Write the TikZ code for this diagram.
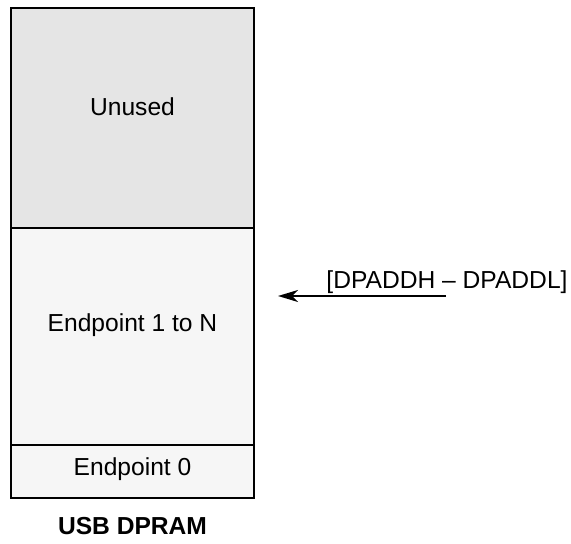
\documentclass[tikz,border=0pt]{standalone}
\usepackage{fontspec}
\setmainfont{Liberation Sans}
\usepackage{tikz}
\usepackage{xcolor}
\usetikzlibrary{arrows.meta}

\definecolor{unusedgray}{HTML}{E5E5E5}
\definecolor{epgray}{HTML}{F6F6F6}

\begin{document}
\begin{tikzpicture}[x=0.5pt, y=-0.5pt, line width=1pt,
  font=\fontsize{12.3}{15}\selectfont,
  region/.style={draw=black, line width=1.1pt}]
\useasboundingbox (0,0) rectangle (571,544);
% memory regions
\fill[epgray] (11,228) rectangle (254,498);
\fill[unusedgray] (11,8) rectangle (254,228);
\draw[region] (11,228) -- (254,228);
\draw[region] (11,445) -- (254,445);
\draw[region] (11,8) rectangle (254,498);
\node (unused) at (132.5,107) {Unused};
\node (ep1n) at (132.5,325) {Endpoint 1 to N};
\node (ep0) at (132.5,469) {Endpoint 0};
\node[font=\fontsize{12.3}{15}\selectfont\bfseries] (title) at (132.5,526) {USB DPRAM};
% pointer
\node (ptr) at (447,282) {[DPADDH – DPADDL]};
\coordinate (ptrstart) at (446,296);
\coordinate (ptrend) at (278,296);
\draw[-{Stealth[length=10pt,width=6pt,inset=3pt]}] (ptrstart) -- (ptrend);
\end{tikzpicture}
\end{document}
